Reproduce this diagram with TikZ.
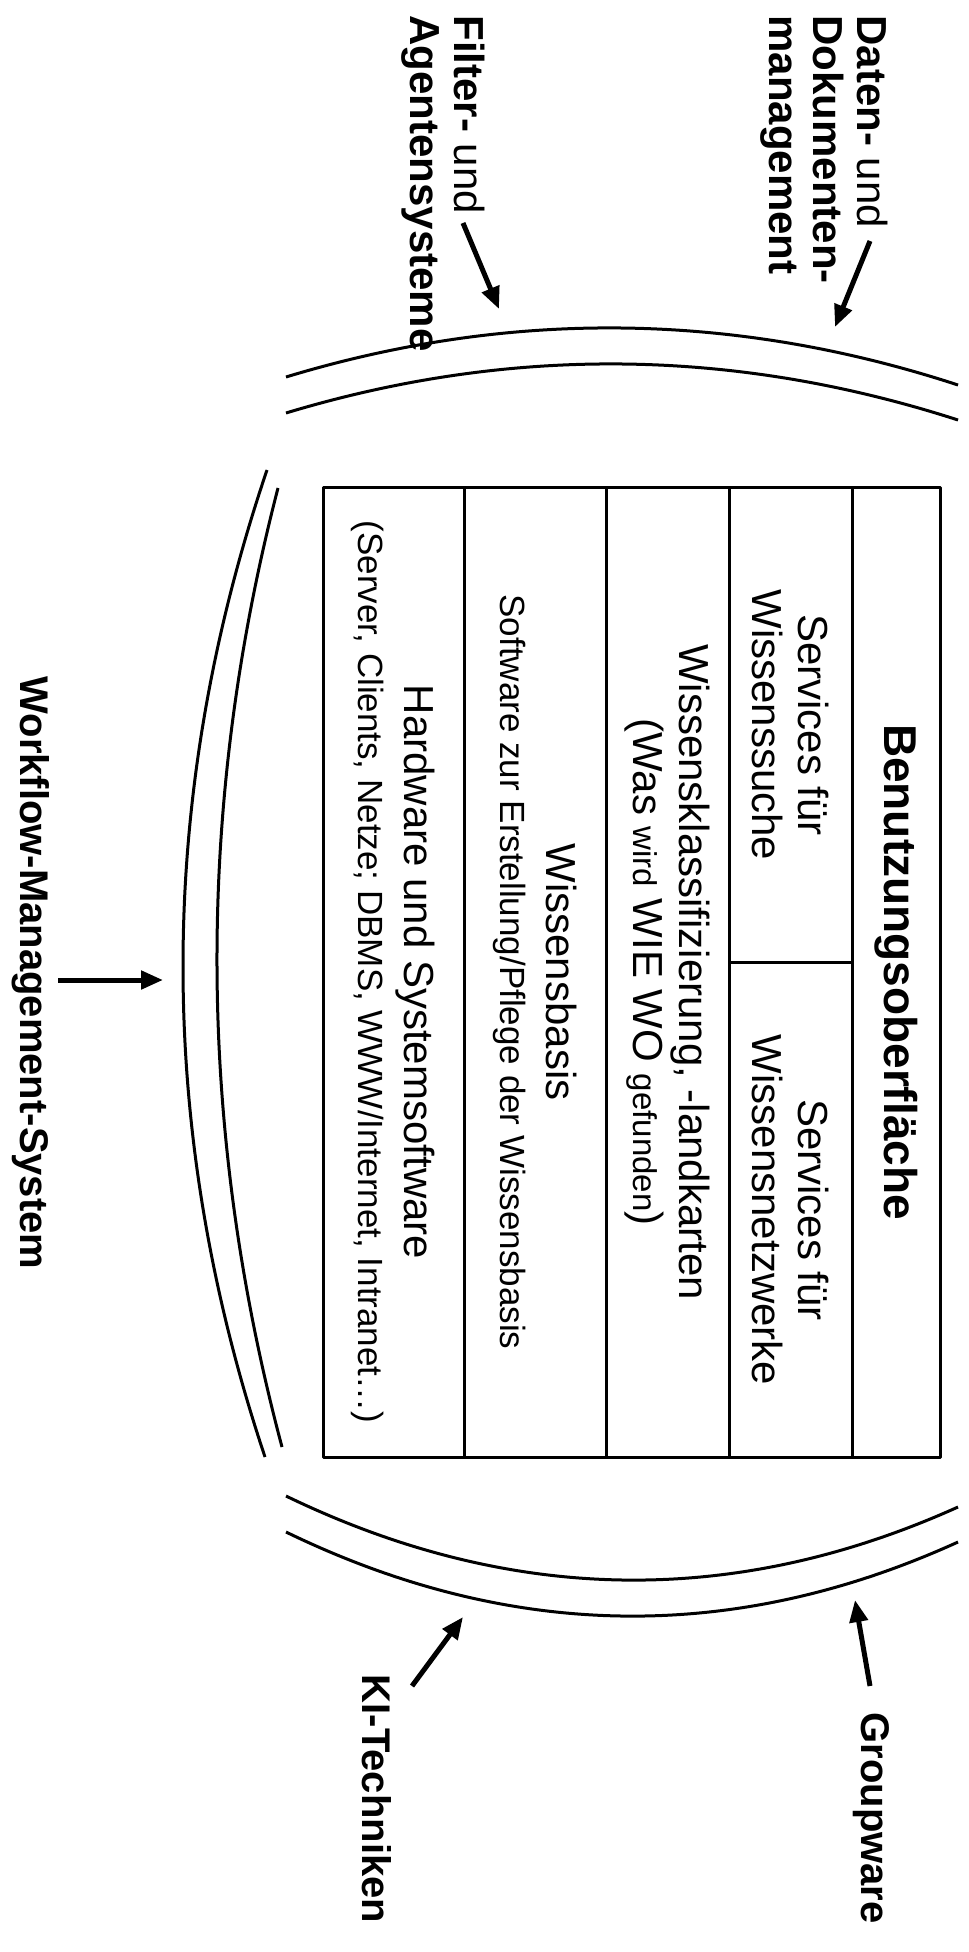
\documentclass[tikz,border=0pt]{standalone}
\usepackage{fontspec}
\setmainfont{Liberation Sans}
\usepackage{tikz}
\usetikzlibrary{arrows.meta,positioning,calc}

\newcommand\kleinschrift[1]{{\fontsize{16.5}{18}\selectfont #1}}
\newcommand\mittelschrift[1]{{\fontsize{17.5}{20}\selectfont #1}}

\begin{document}
\begin{tikzpicture}[x=0.5pt,y=-0.5pt,line join=round]
	\tikzstyle{every node}=[rotate=-90,inner sep=0pt]
	\tikzstyle{rahmen}=[line width=1.5pt]
	\tikzstyle{bogen}=[line width=1.5pt]
	\tikzstyle{pfeil}=[line width=2.5pt,-{Triangle[length=11pt,width=9pt]}]
	\tikzstyle{schicht}=[align=center,font=\fontsize{21}{23}\selectfont]
	\tikzstyle{titel}=[font=\bfseries\fontsize{23}{26}\selectfont]
	\tikzstyle{etikett}=[align=left,font=\fontsize{21}{22}\selectfont]
	\tikzstyle{etikettfett}=[font=\bfseries\fontsize{20}{22}\selectfont]
	
	\useasboundingbox (0,0) rectangle (968,1952);
	
	\draw[rahmen] (323,487) rectangle (940,1457);
	\foreach \x in {464,606,729,852}
		\draw[rahmen] (\x,487) -- (\x,1457);
	\draw[rahmen] (729,962) -- (852,962);
	
	\node[titel] (benutzung) at (896,972) {Benutzungsoberfläche};
	\node[schicht] (suche) at (790,725) {Services für\\Wissenssuche};
	\node[schicht] (netz) at (790,1210) {Services für\\Wissensnetzwerke};
	\node[schicht] (klass) at (667,972) {Wissensklassifizierung, -landkarten\\(Was \kleinschrift{wird} WIE WO \kleinschrift{gefunden})};
	\node[schicht] (basis) at (535,972) {Wissensbasis\\\mittelschrift{Software zur Erstellung/Pflege der Wissensbasis}};
	\node[schicht] (hardware) at (393,972) {Hardware und Systemsoftware\\\mittelschrift{(Server, Clients, Netze; DBMS, WWW/Internet, Intranet…)}};
	
	\draw[bogen] (286,377) .. controls (510,309) and (734,311.7) .. (958,385);
	\draw[bogen] (286,413) .. controls (510,345.3) and (734,347.7) .. (958,420);
	\draw[bogen] (286,1496) .. controls (510,1604.3) and (734,1608) .. (958,1507);
	\draw[bogen] (286,1532) .. controls (510,1640.7) and (734,1644) .. (958,1542);
	\draw[bogen] (267,470) .. controls (155.7,798.7) and (155,1127.7) .. (265,1457);
	\draw[bogen] (278,488) .. controls (195.3,807.3) and (196.7,1127) .. (282,1447);
	
	\node[etikett,anchor=west] (daten) at (824,15) {\textbf{Daten-} und\\\textbf{Dokumenten-}\\\textbf{management}};
	\node[etikett,anchor=west] (filter) at (443,15) {\textbf{Filter-} und\\\textbf{Agentensysteme}};
	\node[etikettfett] (workflow) at (31,973) {Workflow-Management-System};
	\node[etikettfett] (ki) at (377,1799) {KI-Techniken};
	\node[etikettfett] (groupware) at (871,1818) {Groupware};
	
	\coordinate (datenA) at (870,241);
	\coordinate (datenB) at (835,327);
	\coordinate (filterA) at (463,223);
	\coordinate (filterB) at (499,309);
	\coordinate (workflowA) at (58,980);
	\coordinate (workflowB) at (163,980);
	\coordinate (kiA) at (412,1686);
	\coordinate (kiB) at (463,1617);
	\coordinate (groupwareA) at (870,1686);
	\coordinate (groupwareB) at (855,1600);
	
	\draw[pfeil] (datenA) -- (datenB);
	\draw[pfeil] (filterA) -- (filterB);
	\draw[pfeil] (workflowA) -- (workflowB);
	\draw[pfeil] (kiA) -- (kiB);
	\draw[pfeil] (groupwareA) -- (groupwareB);
\end{tikzpicture}
\end{document}
